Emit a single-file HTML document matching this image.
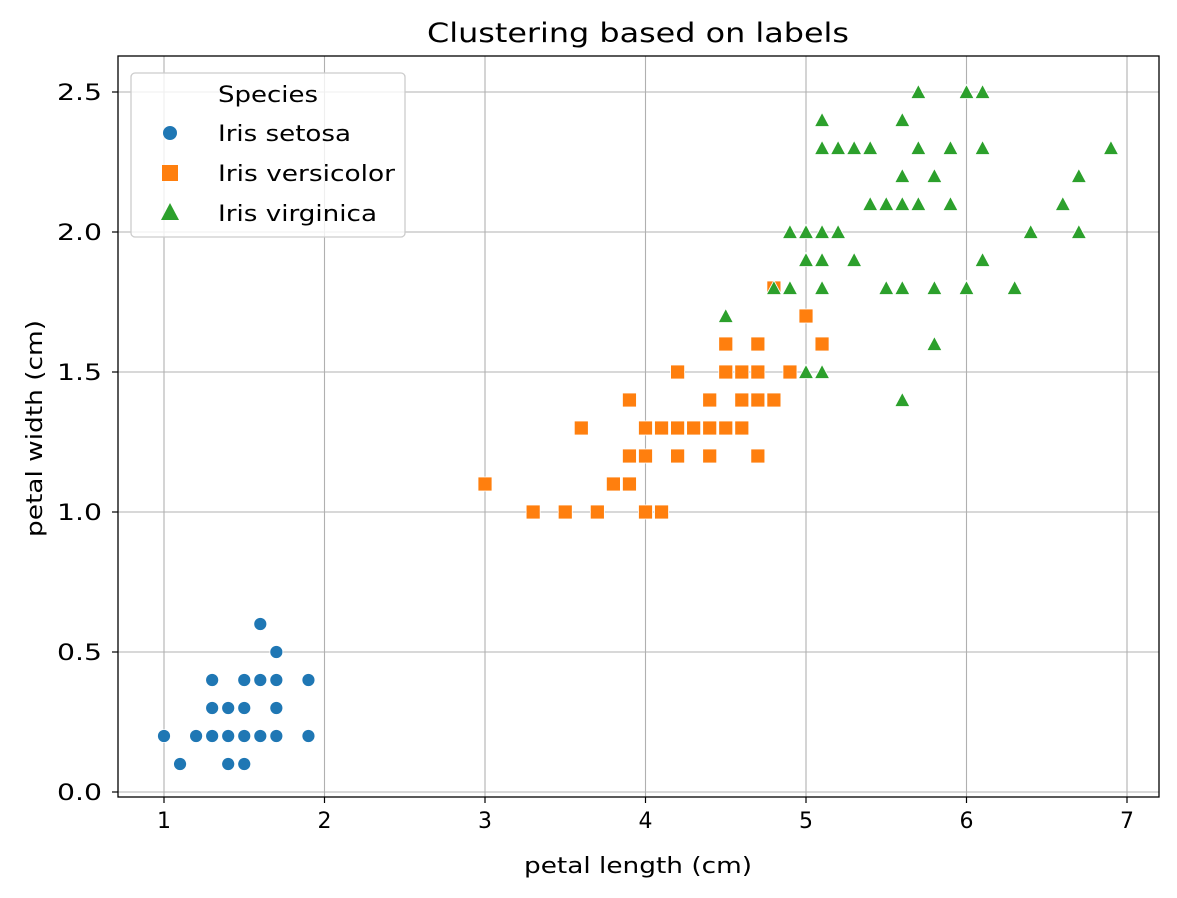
<!DOCTYPE html>
<html><head><meta charset="utf-8"><style>
html,body{margin:0;padding:0;background:#fff;}
svg{display:block;font-family:"DejaVu Sans","Liberation Sans",sans-serif;}
</style></head><body>
<svg id="s" width="1177" height="898" viewBox="0 0 1177 898" xmlns="http://www.w3.org/2000/svg">
<rect width="1177" height="898" fill="#fff"/>
<g id="grid" stroke="#b0b0b0" stroke-width="1.1"></g>
<g id="pts"></g>
<rect x="118" y="56" width="1041" height="741" fill="none" stroke="#000" stroke-width="1.3"/>
<g id="ticks" font-size="22" fill="#000"></g>
<text x="427" y="42" font-size="27" textLength="422" lengthAdjust="spacingAndGlyphs">Clustering based on labels</text>
<text x="524" y="873" font-size="22" textLength="228" lengthAdjust="spacingAndGlyphs">petal length (cm)</text>
<text transform="translate(42,537) rotate(-90)" font-size="22" textLength="217" lengthAdjust="spacingAndGlyphs">petal width (cm)</text>
<g font-size="22">
<rect x="131" y="73" width="274" height="164" rx="4" fill="#fff" fill-opacity="0.8" stroke="#ccc" stroke-width="1.3"/>
<text x="218" y="102" textLength="100" lengthAdjust="spacingAndGlyphs">Species</text>
<circle cx="170" cy="133" r="7" fill="#1f77b4"/>
<text x="218" y="141" textLength="133" lengthAdjust="spacingAndGlyphs">Iris setosa</text>
<rect x="162" y="165" width="16" height="16" fill="#ff7f0e"/>
<text x="218" y="181" textLength="177" lengthAdjust="spacingAndGlyphs">Iris versicolor</text>
<polygon points="170,203 179,220 161,220" fill="#2ca02c"/>
<text x="218" y="221" textLength="159" lengthAdjust="spacingAndGlyphs">Iris virginica</text>
</g>
</svg>
<script>
var NS="http://www.w3.org/2000/svg";
function X(v){return 164+(v-1)*160.5;}
function Y(v){return 792-v*280;}
function el(p,t,a){var e=document.createElementNS(NS,t);for(var k in a)e.setAttribute(k,a[k]);p.appendChild(e);return e;}
var g=document.getElementById('grid'),tk=document.getElementById('ticks');
for(var i=1;i<=7;i++){var x=X(i);el(g,'line',{x1:x,x2:x,y1:56,y2:797});
 el(tk,'line',{x1:x,x2:x,y1:797,y2:803,stroke:'#000','stroke-width':1.2});
 var t=el(tk,'text',{x:x,y:828,'text-anchor':'middle'});t.textContent=i;}
for(var j=0;j<=5;j++){var v=j*0.5,y=Y(v);el(g,'line',{x1:118,x2:1159,y1:y,y2:y});
 el(tk,'line',{x1:112,x2:118,y1:y,y2:y,stroke:'#000','stroke-width':1.2});
 var t2=el(tk,'text',{x:57,y:y+8,textLength:45,lengthAdjust:'spacingAndGlyphs'});t2.textContent=v.toFixed(1);}
var set=[1.4,.2,1.3,.2,1.5,.2,1.7,.4,1.4,.3,1.5,.1,1.6,.2,1.4,.1,1.1,.1,1.2,.2,1.5,.4,1.3,.4,1.7,.3,1.5,.3,1.7,.2,1.0,.2,1.7,.5,1.9,.2,1.6,.4,1.3,.3,1.6,.6,1.9,.4];
var ver=[4.7,1.4,4.5,1.5,4.9,1.5,4.0,1.3,4.6,1.5,4.5,1.3,4.7,1.6,3.3,1.0,4.6,1.3,3.9,1.4,3.5,1.0,4.2,1.5,4.0,1.0,3.6,1.3,4.4,1.4,4.1,1.0,3.9,1.1,4.8,1.8,4.7,1.2,4.3,1.3,4.8,1.4,5.0,1.7,3.8,1.1,3.7,1.0,3.9,1.2,5.1,1.6,4.5,1.6,4.7,1.5,4.1,1.3,4.4,1.2,4.6,1.4,4.0,1.2,4.2,1.3,4.2,1.2,4.4,1.3,3.0,1.1];
var vir=[6.0,2.5,5.1,1.9,5.9,2.1,5.6,1.8,5.8,2.2,6.6,2.1,4.5,1.7,6.3,1.8,5.8,1.8,6.1,2.5,5.1,2.0,5.3,1.9,5.5,2.1,5.0,2.0,5.1,2.4,5.3,2.3,5.5,1.8,6.7,2.2,6.9,2.3,5.0,1.5,5.7,2.3,4.9,2.0,6.7,2.0,4.9,1.8,5.7,2.1,6.0,1.8,4.8,1.8,5.6,2.1,5.8,1.6,6.1,1.9,6.4,2.0,5.6,2.2,5.1,1.5,5.6,1.4,6.1,2.3,5.6,2.4,5.4,2.1,5.1,2.3,5.9,2.3,5.7,2.5,5.2,2.3,5.0,1.9,5.2,2.0,5.4,2.3,5.1,1.8,5.5,2.1];
var p=document.getElementById('pts');
for(var a=0;a<set.length;a+=2)el(p,'circle',{cx:X(set[a]),cy:Y(set[a+1]),r:6.5,fill:'#1f77b4',stroke:'#fff','stroke-width':0.8});
for(a=0;a<ver.length;a+=2)el(p,'rect',{x:X(ver[a])-7,y:Y(ver[a+1])-7,width:14,height:14,fill:'#ff7f0e',stroke:'#fff','stroke-width':0.8});
for(a=0;a<vir.length;a+=2){var cx=X(vir[a]),cy=Y(vir[a+1]);el(p,'polygon',{points:cx+','+(cy-7.5)+' '+(cx+7.5)+','+(cy+6.5)+' '+(cx-7.5)+','+(cy+6.5),fill:'#2ca02c',stroke:'#fff','stroke-width':0.8});}
</script>
</body></html>
